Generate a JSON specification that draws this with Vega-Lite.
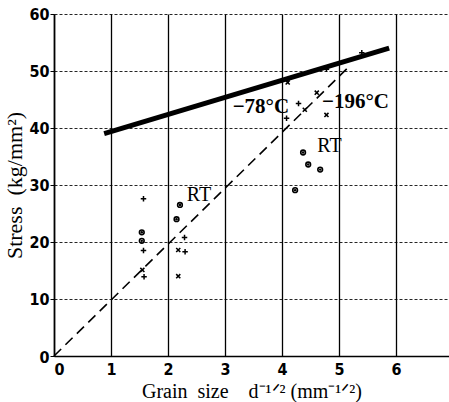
{
  "$schema": "https://vega.github.io/schema/vega-lite/v6.json",
  "width": 395,
  "height": 342,
  "autosize": "none",
  "padding": {"left": 54, "top": 14, "right": 0, "bottom": 46},
  "background": "white",
  "config": {
    "view": {"stroke": null},
    "axis": {
      "labelFont": "DejaVu Sans Condensed",
      "labelFontWeight": "bold",
      "labelFontSize": 16,
      "labelColor": "black",
      "titleFont": "Liberation Serif",
      "titleFontWeight": "normal",
      "titleFontSize": 20,
      "titleColor": "black",
      "domainColor": "black",
      "domainWidth": 1.6,
      "tickColor": "black"
    }
  },
  "datasets": {
    "strength": [
      {"x": 0.88, "y": 39.0},
      {"x": 5.88, "y": 54.0}
    ],
    "hallpetch": [
      {"x": 0.0, "y": 0.0},
      {"x": 5.2, "y": 51.0}
    ],
    "points": [
      {"x": 1.57, "y": 27.6, "kind": "plus"},
      {"x": 1.57, "y": 18.5, "kind": "plus"},
      {"x": 1.58, "y": 13.9, "kind": "plus"},
      {"x": 2.29, "y": 20.8, "kind": "plus"},
      {"x": 2.30, "y": 18.3, "kind": "plus"},
      {"x": 4.29, "y": 44.3, "kind": "plus"},
      {"x": 4.08, "y": 41.7, "kind": "plus"},
      {"x": 4.78, "y": 50.3, "kind": "plus"},
      {"x": 5.40, "y": 53.2, "kind": "plus"},
      {"x": 1.55, "y": 15.1, "kind": "cross"},
      {"x": 2.18, "y": 18.6, "kind": "cross"},
      {"x": 2.18, "y": 14.0, "kind": "cross"},
      {"x": 4.10, "y": 48.0, "kind": "cross"},
      {"x": 4.40, "y": 43.2, "kind": "cross"},
      {"x": 4.61, "y": 46.2, "kind": "cross"},
      {"x": 4.78, "y": 42.3, "kind": "cross"},
      {"x": 1.54, "y": 21.7, "kind": "ring"},
      {"x": 1.54, "y": 20.2, "kind": "ring"},
      {"x": 2.21, "y": 26.5, "kind": "ring"},
      {"x": 2.15, "y": 24.0, "kind": "ring"},
      {"x": 4.37, "y": 35.7, "kind": "ring"},
      {"x": 4.46, "y": 33.6, "kind": "ring"},
      {"x": 4.67, "y": 32.7, "kind": "ring"},
      {"x": 4.23, "y": 29.1, "kind": "ring"}
    ],
    "labels": [
      {"x": 2.33, "y": 28.2, "text": "RT", "group": "rt"},
      {"x": 4.62, "y": 36.8, "text": "RT", "group": "rt"},
      {"x": 3.63, "y": 43.7, "text": "−78°C", "group": "temp"},
      {"x": 5.29, "y": 44.6, "text": "−196°C", "group": "temp"}
    ]
  },
  "layer": [
    {
      "data": {"name": "strength"},
      "mark": {"type": "line", "color": "black", "strokeWidth": 5, "strokeCap": "butt"},
      "encoding": {
        "x": {
          "field": "x", "type": "quantitative",
          "scale": {"domain": [0, 6.93], "nice": false},
          "axis": {
            "values": [0, 1, 2, 3, 4, 5, 6],
            "format": "d",
            "grid": true, "gridColor": "black", "gridWidth": 1.3, "gridOpacity": 1,
            "ticks": false, "labelPadding": 5,
            "labelAlign": {"expr": "datum.value === 0 ? 'left' : 'center'"},
            "title": "Grain\u00a0 size\u00a0\u00a0\u00a0 d⁻¹ᐟ² (mm⁻¹ᐟ²)",
            "titlePadding": 4
          }
        },
        "y": {
          "field": "y", "type": "quantitative",
          "scale": {"domain": [0, 60], "nice": false},
          "axis": {
            "values": [0, 10, 20, 30, 40, 50, 60],
            "format": "d",
            "grid": true, "gridColor": "black", "gridWidth": 1, "gridOpacity": 0.85,
            "gridDash": [3, 2],
            "ticks": true, "tickSize": 4, "labelPadding": 1,
            "labelBaseline": {"expr": "datum.value === 0 ? 'alphabetic' : 'middle'"},
            "labelOffset": {"expr": "datum.value === 0 ? 6 : 0"},
            "title": "Stress\u00a0 (kg/mm²)",
            "titleFontSize": 22,
            "titlePadding": 2
          }
        }
      }
    },
    {
      "data": {"name": "hallpetch"},
      "mark": {"type": "line", "color": "black", "strokeWidth": 1.6, "strokeDash": [10, 6]},
      "encoding": {
        "x": {"field": "x", "type": "quantitative"},
        "y": {"field": "y", "type": "quantitative"}
      }
    },
    {
      "data": {"name": "points"},
      "mark": {"type": "point", "filled": false, "opacity": 1},
      "encoding": {
        "x": {"field": "x", "type": "quantitative"},
        "y": {"field": "y", "type": "quantitative"},
        "shape": {
          "field": "kind", "type": "nominal", "legend": null,
          "scale": {
            "domain": ["plus", "cross", "ring"],
            "range": ["M-1,0L1,0M0,-1L0,1", "M-0.8,-0.8L0.8,0.8M-0.8,0.8L0.8,-0.8", "circle"]
          }
        },
        "size": {
          "field": "kind", "type": "nominal", "legend": null,
          "scale": {"domain": ["plus", "cross", "ring"], "range": [30, 22, 42]}
        },
        "strokeWidth": {
          "field": "kind", "type": "nominal", "legend": null,
          "scale": {"domain": ["plus", "cross", "ring"], "range": [1.5, 1.6, 3]}
        },
        "color": {"value": "black"}
      }
    },
    {
      "data": {"name": "points"},
      "transform": [{"filter": "datum.kind === 'ring'"}],
      "mark": {"type": "circle", "color": "black", "size": 6, "opacity": 1},
      "encoding": {
        "x": {"field": "x", "type": "quantitative"},
        "y": {"field": "y", "type": "quantitative"}
      }
    },
    {
      "data": {"name": "labels"},
      "transform": [{"filter": "datum.group === 'rt'"}],
      "mark": {"type": "text", "font": "Liberation Serif", "fontSize": 20, "color": "black", "baseline": "middle", "align": "left"},
      "encoding": {
        "x": {"field": "x", "type": "quantitative"},
        "y": {"field": "y", "type": "quantitative"},
        "text": {"field": "text"}
      }
    },
    {
      "data": {"name": "labels"},
      "transform": [{"filter": "datum.group === 'temp'"}],
      "mark": {"type": "text", "font": "Liberation Serif", "fontSize": 21, "fontWeight": "bold", "color": "black", "baseline": "middle", "align": "center"},
      "encoding": {
        "x": {"field": "x", "type": "quantitative"},
        "y": {"field": "y", "type": "quantitative"},
        "text": {"field": "text"}
      }
    }
  ]
}
